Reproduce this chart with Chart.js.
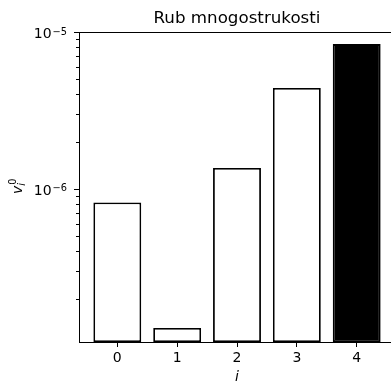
<!DOCTYPE html>
<html>
<head>
<meta charset="utf-8">
<script src="https://cdn.jsdelivr.net/npm/chart.js@4/dist/chart.umd.min.js"></script>
<style>
  html, body { margin: 0; padding: 0; background: #fff; }
  #wrap { width: 391px; height: 383px; overflow: hidden; position: relative; }
  canvas { display: block; }
</style>
</head>
<body>
<div id="wrap"><canvas id="grafico" width="395" height="383"></canvas></div>
<script>
// -------- DADOS --------
const titulo = "Rub mnogostrukosti";
const categorias = [0, 1, 2, 3, 4];
const valores = [8.2e-7, 1.30e-7, 1.36e-6, 4.40e-6, 8.37e-6];
const destaque = 4; // barra preenchida
const yMin = 1.057e-7;
const yMax = 1e-5;
const xMin = -0.64;
const xMax = 4.64;
const yMajor = [1e-6, 1e-5];
const yMajorExp = ["\u22126", "\u22125"];
const yMinor = [2e-7, 3e-7, 4e-7, 5e-7, 6e-7, 7e-7, 8e-7, 9e-7,
                2e-6, 3e-6, 4e-6, 5e-6, 6e-6, 7e-6, 8e-6, 9e-6];

const FONTE = "DejaVu Sans";

// -------- PLUGIN: titulo, eixos, rotulos --------
const extras = {
  id: "extras",
  afterDraw(chart) {
    const c = chart.ctx;
    const a = chart.chartArea;
    const y = chart.scales.y;
    c.save();
    c.strokeStyle = "#000";
    c.lineWidth = 1;

    // spine de cima
    c.beginPath();
    c.moveTo(a.left, Math.round(a.top) + 0.5);
    c.lineTo(a.right, Math.round(a.top) + 0.5);
    c.stroke();

    // ticks do eixo y
    const tick = (v, len) => {
      const py = Math.round(y.getPixelForValue(v)) + 0.5;
      c.beginPath();
      c.moveTo(a.left - len, py);
      c.lineTo(a.left, py);
      c.stroke();
    };
    yMajor.forEach((v) => tick(v, 5));
    yMinor.forEach((v) => tick(v, 3));

    // rotulos do eixo y: 10^exp
    c.fillStyle = "#000";
    c.textBaseline = "alphabetic";
    c.textAlign = "left";
    yMajor.forEach((v, i) => {
      const py = y.getPixelForValue(v);
      c.font = "14px '" + FONTE + "'";
      const wb = c.measureText("10").width;
      c.font = "9.8px '" + FONTE + "'";
      const we = c.measureText(yMajorExp[i]).width;
      const x0 = a.left - 12 - wb - we - 1;
      c.font = "14px '" + FONTE + "'";
      c.fillText("10", x0, py + 6);
      c.font = "9.8px '" + FONTE + "'";
      c.fillText(yMajorExp[i], x0 + wb + 1, py + 2.5);
    });

    // titulo
    c.font = "16.7px '" + FONTE + "'";
    c.textAlign = "center";
    c.fillText(titulo, (a.left + a.right) / 2, 23);

    // rotulo x
    c.font = "italic 14px '" + FONTE + "'";
    c.fillText("i", (a.left + a.right) / 2, 381);

    // rotulo y: v_i^0
    c.translate(22, 194);
    c.rotate(-Math.PI / 2);
    c.textAlign = "left";
    c.font = "italic 14px '" + FONTE + "'";
    c.fillText("v", 0, 0);
    const w = c.measureText("v").width;
    c.font = "italic 9.8px '" + FONTE + "'";
    c.fillText("i", w, 3);
    c.font = "9.8px '" + FONTE + "'";
    c.fillText("0", w + 1, -6);
    c.restore();
  }
};

// -------- GRAFICO --------
const ctx = document.getElementById("grafico").getContext("2d");
const chart = new Chart(ctx, {
  type: "bar",
  data: {
    datasets: [
      {
        data: valores.map((v, i) => ({ x: categorias[i], y: v })),
        backgroundColor: (c) => (c.dataIndex === destaque ? "#000" : "#fff"),
        borderColor: "#000",
        borderWidth: 1.8,
        borderSkipped: false,
        barPercentage: 0.8,
        categoryPercentage: 1.0
      }
    ]
  },
  options: {
    responsive: false,
    animation: false,
    devicePixelRatio: 1,
    layout: { padding: { top: 32, right: 0, bottom: 0, left: 0 } },
    plugins: {
      legend: { display: false },
      title: { display: false },
      tooltip: { enabled: false }
    },
    scales: {
      x: {
        type: "linear",
        min: xMin,
        max: xMax,
        offset: false,
        afterFit: (s) => { s.height = 41; },
        afterBuildTicks: (s) => { s.ticks = categorias.map((v) => ({ value: v })); },
        grid: { display: true, offset: false, drawOnChartArea: false, drawTicks: true, tickLength: 5, tickColor: "#000", tickWidth: 1 },
        border: { display: true, color: "#000", width: 1 },
        ticks: {
          autoSkip: false,
          maxRotation: 0,
          padding: 3,
          color: "#000",
          font: { family: FONTE, size: 14 },
          callback: (v) => String(v)
        }
      },
      y: {
        type: "logarithmic",
        min: yMin,
        max: yMax,
        afterFit: (s) => { s.width = 79; },
        afterBuildTicks: (s) => { s.ticks = yMajor.map((v) => ({ value: v })); },
        grid: { display: false, drawTicks: false },
        border: { display: true, color: "#000", width: 1 },
        ticks: { display: false }
      }
    }
  },
  plugins: [extras]
});
</script>
</body>
</html>
